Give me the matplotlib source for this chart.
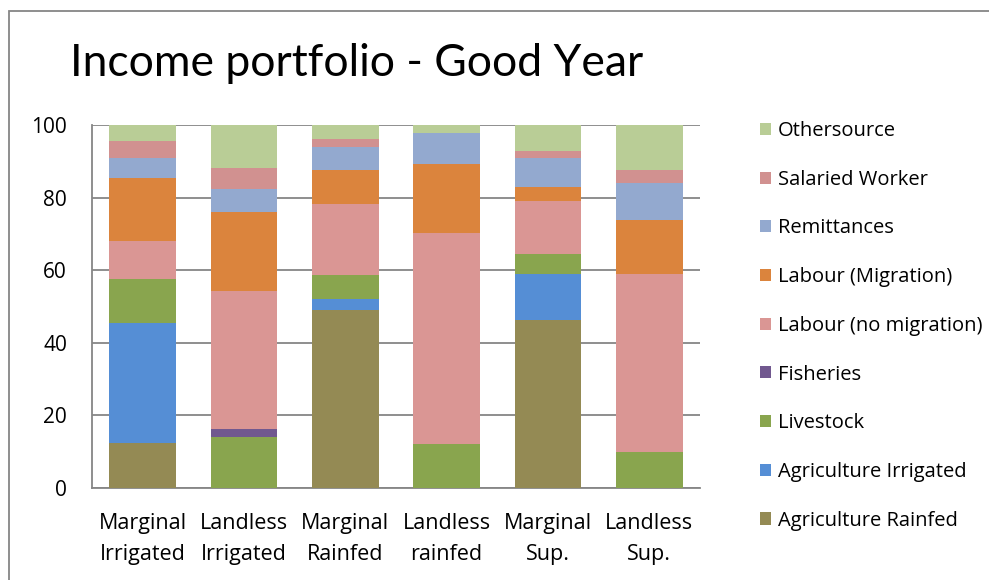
import matplotlib
matplotlib.use("Agg")
import matplotlib.pyplot as plt
from matplotlib.patches import Rectangle, Patch
import numpy as np

categories = ["Marginal\nIrrigated", "Landless\nIrrigated", "Marginal\nRainfed",
              "Landless\nrainfed", "Marginal\nSup.", "Landless\nSup."]

series_names = ["Agriculture Rainfed", "Agriculture Irrigated", "Livestock", "Fisheries",
                "Labour (no migration)", "Labour (Migration)", "Remittances",
                "Salaried Worker", "Othersource"]

agri_rainfed   = [12.3, 0.0, 49.1, 0.0, 46.2, 0.0]
agri_irrigated = [33.1, 0.0, 2.9, 0.0, 12.7, 0.0]
livestock      = [12.1, 14.0, 6.6, 12.1, 5.5, 9.8]
fisheries      = [0.0, 2.2, 0.0, 0.0, 0.0, 0.0]
labour_nomig   = [10.5, 38.0, 19.6, 58.1, 14.6, 49.1]
labour_mig     = [17.5, 21.9, 9.5, 19.1, 3.9, 15.0]
remittances    = [5.5, 6.3, 6.2, 8.5, 8.1, 10.1]
salaried       = [4.6, 5.7, 2.2, 0.0, 1.8, 3.6]
othersource    = [4.4, 11.9, 3.9, 2.2, 7.2, 12.4]

series = [agri_rainfed, agri_irrigated, livestock, fisheries, labour_nomig,
          labour_mig, remittances, salaried, othersource]
colors = ["#948A54", "#558ED5", "#89A54E", "#71588F", "#DA9694",
          "#DB843D", "#93A9CF", "#D19190", "#B9CD96"]

plt.rcParams['font.family'] = ['Open Sans', 'DejaVu Sans']

fig = plt.figure(figsize=(9.89, 5.80), dpi=100)
W, H = 989, 580
ax = fig.add_axes([92 / W, 1 - 488 / H, (700 - 92) / W, (488 - 125) / H])

x = np.arange(len(categories))
bottom = np.zeros(len(categories))
for name, vals, c in zip(series_names, series, colors):
    v = np.array(vals)
    ax.bar(x, v, bottom=bottom, width=0.66, color=c, label=name, zorder=3)
    bottom += v

ax.set_xlim(-0.5, len(categories) - 0.5)
ax.set_ylim(0, 100)
ax.set_yticks([0, 20, 40, 60, 80, 100])
ax.yaxis.grid(True, color="#868686", linewidth=1.3, zorder=0)
ax.set_axisbelow(True)
for s in ["top", "right"]:
    ax.spines[s].set_visible(False)
for s in ["left", "bottom"]:
    ax.spines[s].set_color("#868686")
    ax.spines[s].set_linewidth(1.3)
ax.tick_params(axis="y", length=0, labelsize=15, colors="black", pad=18)
ax.tick_params(axis="x", length=0, labelsize=15.5, colors="black", pad=18)
ax.set_xticks(x)
ax.set_xticklabels(categories, linespacing=1.65)

fig.text(70 / W, 1 - 64 / H, "Income portfolio - Good Year", fontsize=32,
         ha="left", va="center", color="black", family=["Lato", "DejaVu Sans"])

handles = [Patch(facecolor=c, edgecolor="none") for c in colors][::-1]
labels = series_names[::-1]
fig.legend(handles, labels, loc="upper left", bbox_to_anchor=(752 / W, 1 - 113 / H),
           frameon=False, fontsize=14.5, handlelength=0.55, handleheight=0.55,
           handletextpad=0.35, labelspacing=1.425, borderaxespad=0)

fig.patches.append(Rectangle((9 / W, -0.1), 1.2, 1 - 11 / H + 0.1, transform=fig.transFigure,
                             fill=False, edgecolor="#868686", linewidth=1.3))

fig.savefig("out.png", dpi=100)
